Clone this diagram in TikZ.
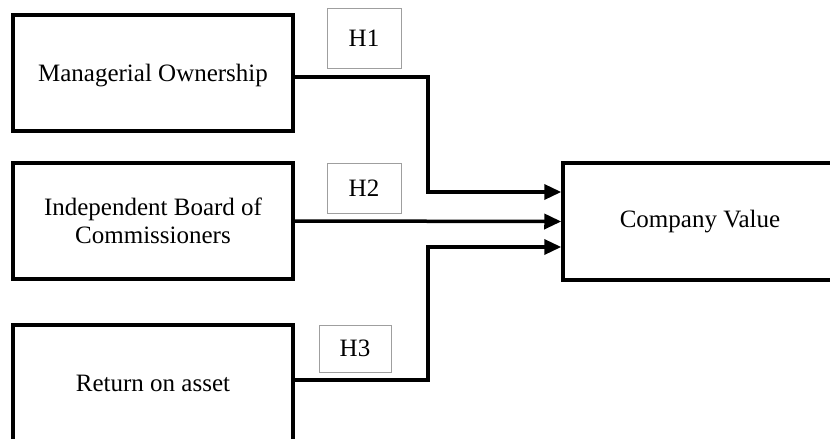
\documentclass[tikz,border=0pt]{standalone}
\usepackage{fontspec}
\setmainfont{Liberation Serif}
\usetikzlibrary{arrows.meta}
\begin{document}
\begin{tikzpicture}[x=1pt,y=1pt,
  box/.style={draw, line width=3.5pt, align=center, inner sep=0pt,
    font=\fontsize{25}{28}\selectfont},
  hbox/.style={draw=gray!75, line width=1pt, inner sep=0pt,
    font=\fontsize{25}{28}\selectfont},
  conn/.style={line width=3.5pt, -{Triangle[length=17pt,width=15pt]}}]
\useasboundingbox (0,0) rectangle (830,-439);
\node[box, minimum width=280pt, minimum height=116pt, text depth=0pt] (mo) at (153,-73) {Managerial Ownership};
\node[box, minimum width=280pt, minimum height=116pt] (ib) at (153,-221) {Independent Board of\\Commissioners};
\node[box, minimum width=280pt, minimum height=116pt] (ra) at (153,-383) {Return on asset};
\node[box, minimum width=274pt, minimum height=117pt] (cv) at (700,-221.5) {Company Value};
\node[hbox, minimum width=74pt, minimum height=60pt] (h1) at (364,-38) {H1};
\node[hbox, minimum width=74pt, minimum height=50pt] (h2) at (364,-188) {H2};
\node[hbox, minimum width=72pt, minimum height=47pt] (h3) at (355,-348.5) {H3};
\coordinate (j) at (428,0);
\coordinate (t1) at ([yshift=29.5pt]cv.west);
\coordinate (t3) at ([yshift=-25.5pt]cv.west);
\draw[conn] ([yshift=-4pt]mo.east) -| (j |- t1) -- (t1);
\draw[conn] (ib.east) -- (cv.west);
\draw[conn] ([yshift=3pt]ra.east) -| (j |- t3) -- (t3);
\end{tikzpicture}
\end{document}
